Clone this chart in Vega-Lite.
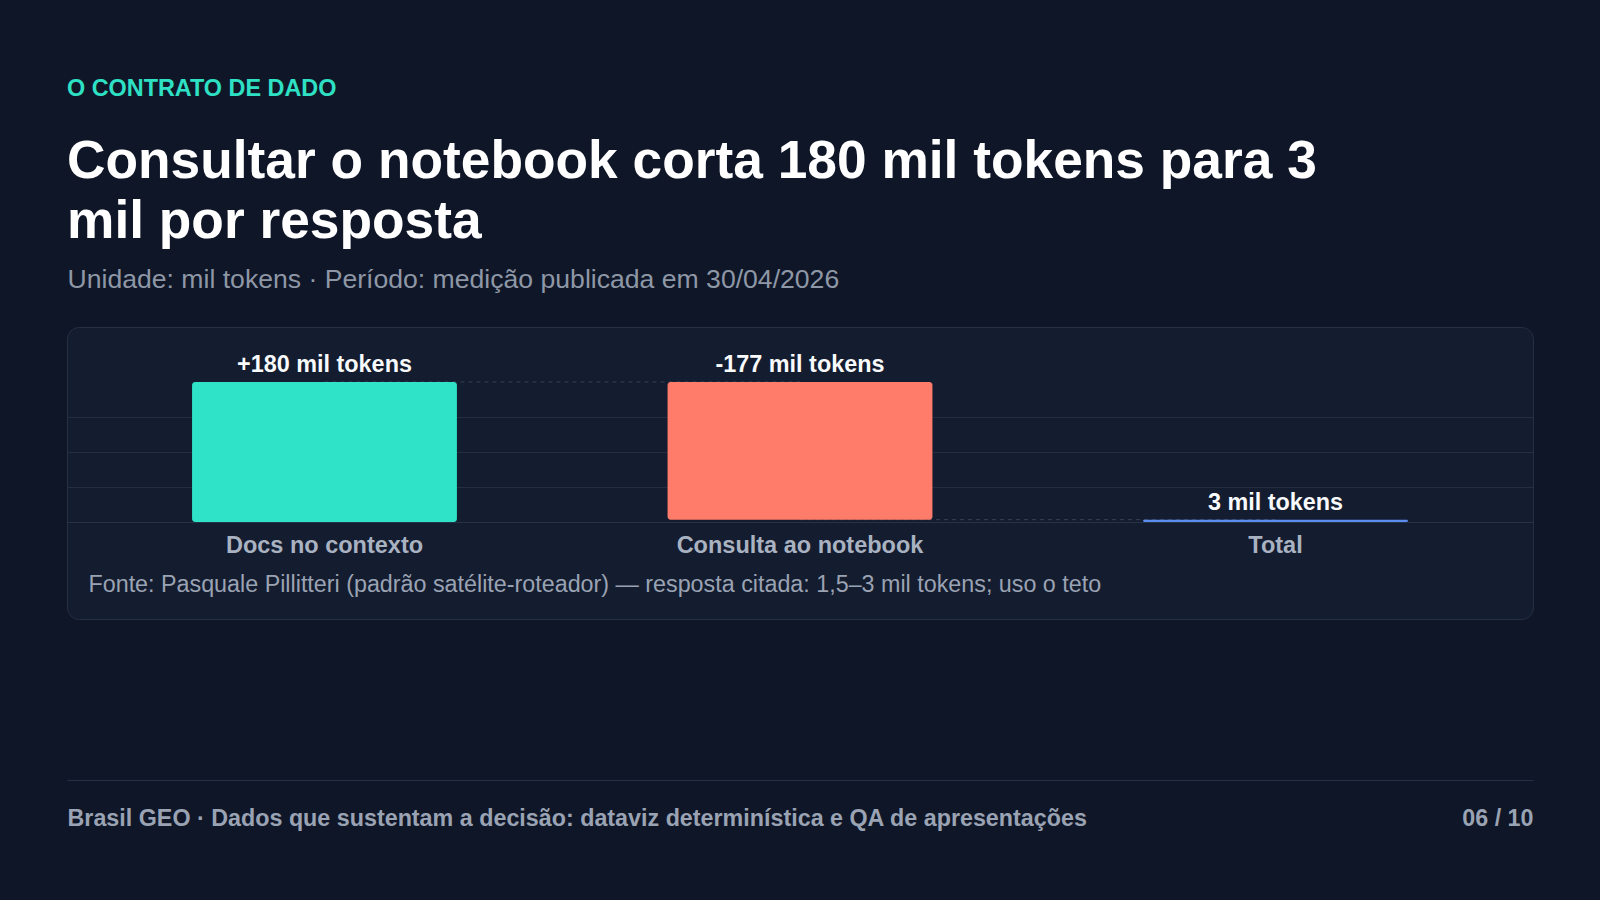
{
  "$schema": "https://vega.github.io/schema/vega-lite/v6.json",
  "width": 1466,
  "height": 292,
  "autosize": {"type": "none"},
  "padding": {"left": 67, "right": 67, "top": 327, "bottom": 281},
  "background": "#0f1627",
  "config": {
    "font": "Liberation Sans",
    "view": {"fill": "#141c2f", "stroke": "#263044", "cornerRadius": 12, "strokeWidth": 1}
  },
  "title": {
    "text": "O CONTRATO DE DADO",
    "subtitle": ["Consultar o notebook corta 180 mil tokens para 3", "mil por resposta"],
    "anchor": "start",
    "frame": "group",
    "orient": "top",
    "color": "#2ee0c4",
    "fontSize": 23.4,
    "fontWeight": "bold",
    "subtitleColor": "#ffffff",
    "subtitleFontSize": 53.3,
    "subtitleFontWeight": "bold",
    "subtitleLineHeight": 60,
    "subtitlePadding": 34,
    "offset": 17
  },
  "datasets": {
    "etapas": [
      {"etapa": "Docs no contexto", "inicio": 0, "fim": 180, "rotulo": "+180 mil tokens"},
      {"etapa": "Consulta ao notebook", "inicio": 180, "fim": 3, "rotulo": "-177 mil tokens"},
      {"etapa": "Total", "inicio": 0, "fim": 3, "rotulo": "3 mil tokens"}
    ],
    "ligacoes": [
      {"de": "Docs no contexto", "para": "Consulta ao notebook", "nivel": 180},
      {"de": "Consulta ao notebook", "para": "Total", "nivel": 3}
    ]
  },
  "resolve": {"axis": {"x": "independent", "y": "independent"}},
  "layer": [
    {
      "data": {"name": "ligacoes"},
      "mark": {"type": "rule", "strokeDash": [4, 4], "color": "#354257", "strokeWidth": 1},
      "encoding": {
        "x": {
          "field": "de",
          "type": "nominal",
          "scale": {"domain": ["Docs no contexto", "Consulta ao notebook", "Total"], "paddingInner": 0.443, "paddingOuter": 0.263},
          "axis": {
            "orient": "top",
            "offset": -453,
            "labels": false,
            "ticks": false,
            "tickSize": 0,
            "grid": false,
            "domain": true,
            "domainColor": "#243044",
            "domainWidth": 1,
            "title": "Brasil GEO · Dados que sustentam a decisão: dataviz determinística e QA de apresentações",
            "titleX": 0,
            "titleY": 45,
            "titleAlign": "left",
            "titleAnchor": "start",
            "titleBaseline": "alphabetic",
            "titleFontSize": 23.3,
            "titleFontWeight": "bold",
            "titleColor": "#9aa3b3",
            "titleLimit": 0
          }
        },
        "x2": {"field": "para"},
        "y": {
          "field": "nivel",
          "type": "quantitative",
          "scale": {"domain": [-124.7, 250.7], "nice": false, "zero": false},
          "axis": {
            "orient": "right",
            "labels": false,
            "ticks": false,
            "tickSize": 0,
            "grid": false,
            "domain": false,
            "title": "06 / 10",
            "titleAngle": 0,
            "titleX": 0,
            "titleY": 498,
            "titleAlign": "right",
            "titleBaseline": "alphabetic",
            "titleFontSize": 23.3,
            "titleFontWeight": "bold",
            "titleColor": "#9aa3b3"
          }
        }
      }
    },
    {
      "data": {"name": "etapas"},
      "mark": {"type": "bar", "cornerRadius": 3},
      "encoding": {
        "x": {
          "field": "etapa",
          "type": "nominal",
          "sort": null,
          "axis": {
            "orient": "bottom",
            "offset": -97,
            "ticks": false,
            "tickSize": 0,
            "grid": false,
            "domain": true,
            "domainColor": "#263246",
            "domainWidth": 1,
            "labelAngle": 0,
            "labelFontSize": 23.5,
            "labelFontWeight": "bold",
            "labelColor": "#a9b2c1",
            "labelBaseline": "alphabetic",
            "labelPadding": 30,
            "labelLimit": 0,
            "title": "Fonte: Pasquale Pillitteri (padrão satélite-roteador) — resposta citada: 1,5–3 mil tokens; uso o teto",
            "titleX": 21,
            "titleY": 69,
            "titleAlign": "left",
            "titleAnchor": "start",
            "titleBaseline": "alphabetic",
            "titleFontSize": 23.3,
            "titleFontWeight": "normal",
            "titleColor": "#9aa3b3",
            "titleLimit": 0
          }
        },
        "y": {
          "field": "inicio",
          "type": "quantitative",
          "axis": {
            "orient": "left",
            "values": [0, 45, 90, 135],
            "grid": true,
            "gridColor": "#232e42",
            "gridWidth": 1,
            "labels": false,
            "ticks": false,
            "tickSize": 0,
            "domain": false,
            "title": "Unidade: mil tokens · Período: medição publicada em 30/04/2026",
            "titleAngle": 0,
            "titleX": 0,
            "titleY": -40,
            "titleAlign": "left",
            "titleBaseline": "alphabetic",
            "titleFontSize": 26.6,
            "titleFontWeight": "normal",
            "titleColor": "#8e97a6",
            "titleLimit": 0
          }
        },
        "y2": {"field": "fim"},
        "color": {
          "field": "etapa",
          "type": "nominal",
          "scale": {"domain": ["Docs no contexto", "Consulta ao notebook", "Total"], "range": ["#2ee3c7", "#ff7b6a", "#5b8def"]},
          "legend": null
        }
      }
    },
    {
      "data": {"name": "etapas"},
      "transform": [{"calculate": "max(datum.inicio, datum.fim)", "as": "topo"}],
      "mark": {"type": "text", "baseline": "alphabetic", "dy": -10, "fontSize": 23.4, "fontWeight": "bold", "color": "#f8fafc"},
      "encoding": {
        "x": {"field": "etapa", "type": "nominal", "axis": null},
        "y": {"field": "topo", "type": "quantitative", "axis": null},
        "text": {"field": "rotulo"}
      }
    }
  ]
}
